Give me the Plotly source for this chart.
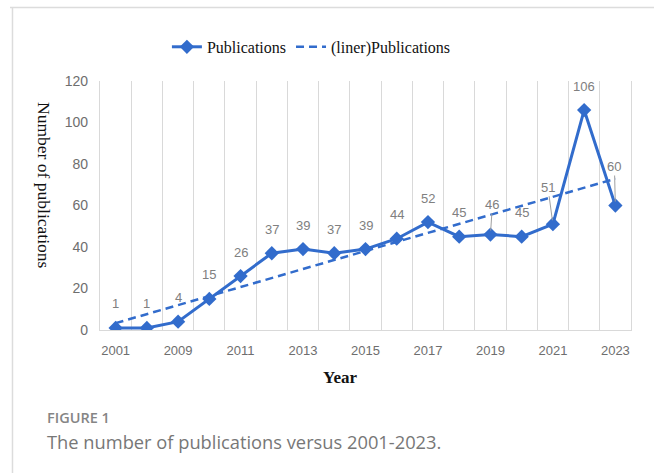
import plotly.graph_objects as go

# ---- data ----
years = ["2001", "2008", "2009", "2010", "2011", "2012", "2013", "2014", "2015",
         "2016", "2017", "2018", "2019", "2020", "2021", "2022", "2023"]
publications = [1, 1, 4, 15, 26, 37, 39, 37, 39, 44, 52, 45, 46, 45, 51, 106, 60]
trend_years = ["2001", "2023"]
trend_values = [3.3, 72.9]          # linear trendline end points
tick_years = ["2001", "2009", "2011", "2013", "2015", "2017", "2019", "2021", "2023"]
y_ticks = [0, 20, 40, 60, 80, 100, 120]

# ---- style ----
BLUE = "#326CCC"
GRID = "#d9d9d9"
LABEL_GREY = "#808080"
TICK_GREY = "#6e6e6e"
SERIF = "Liberation Serif, Times New Roman, serif"
SANS = "Liberation Sans, Arial, sans-serif"
leader_offsets = {12: (2, -30), 14: (-5, -37), 16: (-1, -39)}

fig = go.Figure()
fig.add_trace(go.Scatter(
    x=years, y=publications, name="Publications", mode="lines+markers",
    line=dict(color=BLUE, width=3),
    marker=dict(symbol="diamond", size=11, color=BLUE),
))
fig.add_trace(go.Scatter(
    x=trend_years, y=trend_values, name="(liner)Publications", mode="lines",
    line=dict(color=BLUE, width=2.5, dash="8px,5px"),
))

annotations = []
for i, v in enumerate(publications):
    # category axes place annotations by category index
    if i in leader_offsets:
        ax, ay = leader_offsets[i]
        annotations.append(dict(
            x=i, y=v, xref="x", yref="y", text=str(v), showarrow=True,
            ax=ax, ay=ay, arrowhead=0, arrowwidth=1, arrowcolor="#a0a0a0",
            standoff=4, font=dict(family=SANS, size=13, color=LABEL_GREY)))
    else:
        annotations.append(dict(
            x=i, y=v, xref="x", yref="y", text=str(v), showarrow=False,
            yshift=24, font=dict(family=SANS, size=13, color=LABEL_GREY)))

annotations += [
    dict(x=-0.1055, y=0.582, xref="paper", yref="paper", text="Number of publications",
         textangle=90, xanchor="center", yanchor="middle", showarrow=False,
         font=dict(family=SERIF, size=17.5, color="#111")),
    dict(x=0.452, y=-0.189, xref="paper", yref="paper", text="<b>Year</b>",
         xanchor="center", yanchor="middle", showarrow=False,
         font=dict(family=SERIF, size=17, color="#111")),
    dict(x=-0.1036, y=-0.353, xref="paper", yref="paper", text="FIGURE 1",
         xanchor="left", yanchor="middle", showarrow=False,
         font=dict(family="Open Sans, sans-serif", size=14.5, color="#858585", weight=600)),
    dict(x=-0.1036, y=-0.446, xref="paper", yref="paper",
         text="The number of publications versus 2001-2023.",
         xanchor="left", yanchor="middle", showarrow=False,
         font=dict(family="Open Sans, sans-serif", size=18.3, color="#777777")),
]

shapes = [
    dict(type="line", xref="paper", yref="paper", x0=-0.1695, x1=1.1, y0=1.295, y1=1.295,
         line=dict(color="#dcdcdc", width=1.5)),
    dict(type="line", xref="paper", yref="paper", x0=-0.1648, x1=-0.1648, y0=1.295, y1=-0.62,
         line=dict(color="#dcdcdc", width=1.5)),
]

tick_text = [y if y in tick_years else "" for y in years]

fig.update_layout(
    width=654, height=473,
    margin=dict(l=100, r=23, t=81, b=143),
    paper_bgcolor="white", plot_bgcolor="white",
    showlegend=True,
    legend=dict(orientation="h", x=0.126, y=1.137, xanchor="left", yanchor="middle",
                font=dict(family=SERIF, size=16, color="#111"),
                bgcolor="rgba(0,0,0,0)", itemwidth=30, tracegroupgap=0),
    annotations=annotations,
    shapes=shapes,
    xaxis=dict(type="category", categoryorder="array", categoryarray=years,
               tickmode="array", tickvals=years, ticktext=tick_text, tickangle=0,
               tickson="boundaries", showgrid=True, gridcolor=GRID, gridwidth=1.3,
               showline=True, linecolor=GRID, linewidth=1.3, ticks="",
               ticklabelstandoff=8,
               tickfont=dict(family=SANS, size=13, color=TICK_GREY),
               range=[-0.5, 16.5]),
    yaxis=dict(range=[0, 120], tickvals=y_ticks, showgrid=False, zeroline=False,
               showline=True, linecolor=GRID, linewidth=1.3, mirror=True, ticks="",
               ticklabelstandoff=8,
               tickfont=dict(family=SANS, size=14, color=TICK_GREY)),
)

fig.write_html("out.html")
